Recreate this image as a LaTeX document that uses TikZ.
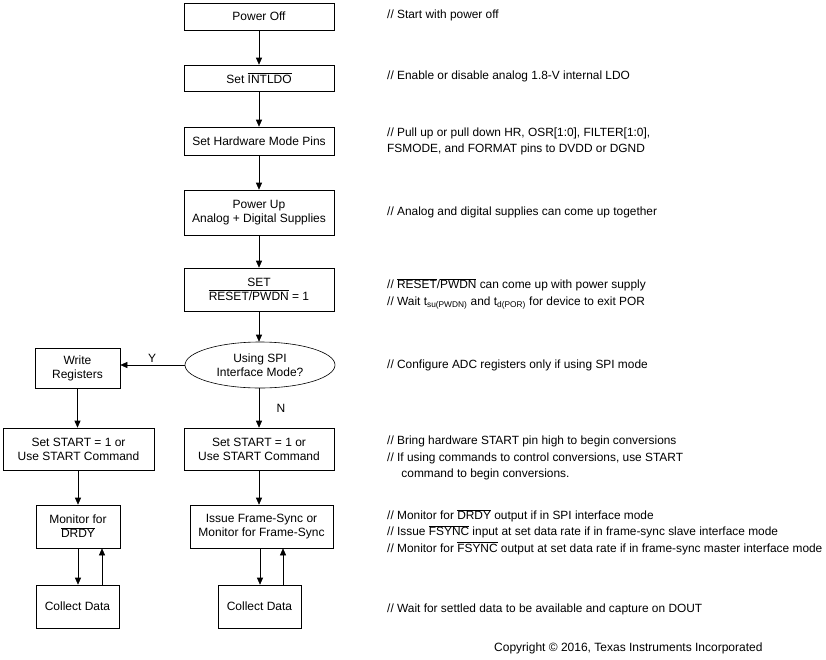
\documentclass[tikz,border=0pt]{standalone}
\usepackage{fontspec}
\setmainfont{Liberation Sans}
\usetikzlibrary{shapes.geometric,arrows.meta}
\begin{document}
\begin{tikzpicture}[x=1pt,y=-1pt,
  box/.style={draw,line width=0.6pt,align=center,inner sep=0pt,font=\fontsize{12}{14}\selectfont},
  cmt/.style={anchor=west,align=left,inner sep=0pt,font=\fontsize{11.9}{16.5}\selectfont},
  lbl/.style={font=\fontsize{12}{14}\selectfont,inner sep=0pt},
  arr/.style={-{Triangle[length=7pt,width=6pt]},line width=0.6pt}]
\useasboundingbox (0,0) rectangle (826,659);
\node[box,minimum width=150,minimum height=27] (p1) at (259,16.5) {Power Off};
\node[box,minimum width=150,minimum height=26] (p2) at (259,78) {Set $\overline{\hbox{INTLDO}}$};
\node[box,minimum width=150,minimum height=28] (p3) at (259,141) {Set Hardware Mode Pins};
\node[box,minimum width=150,minimum height=45] (p4) at (259,212.5) {Power Up\\Analog + Digital Supplies};
\node[box,minimum width=150,minimum height=43] (p5) at (259,289.5) {SET\\$\overline{\hbox{RESET/PWDN}}$ = 1};
\node[box,ellipse,minimum width=150,minimum height=46] (d) at (260,365) {Using SPI\\Interface Mode?};
\node[box,minimum width=85,minimum height=40] (wr) at (77.5,368) {Write\\Registers};
\node[box,minimum width=151,minimum height=42] (sl) at (78.5,449) {Set START = 1 or\\Use START Command};
\node[box,minimum width=150,minimum height=42] (sr) at (259,449) {Set START = 1 or\\Use START Command};
\node[box,minimum width=84,minimum height=43] (ml) at (78,526.5) {Monitor for\\$\overline{\hbox{DRDY}}$};
\node[box,minimum width=143,minimum height=43] (mr) at (261.5,526.5) {Issue Frame-Sync or\\Monitor for Frame-Sync};
\node[box,minimum width=83,minimum height=43] (cl) at (77.5,606.5) {Collect Data};
\node[box,minimum width=83,minimum height=43] (cr) at (259.5,606.5) {Collect Data};
\draw[arr] (p1) -- (p2);
\draw[arr] (p2) -- (p3);
\draw[arr] (p3) -- (p4);
\draw[arr] (p4) -- (p5);
\draw[arr] (p5) -- (p5 |- d.north);
\draw[arr] (d.west) -- (wr.east |- d.west);
\node[lbl] (ylab) at (152,358) {Y};
\draw[arr] (d.south -| sr.north) -- (sr.north);
\node[lbl] (nlab) at (281,408) {N};
\draw[arr] (wr) -- (wr |- sl.north);
\draw[arr] (sl.south -| ml.north) -- (ml.north);
\draw[arr] (sr) -- (sr |- mr.north);
\draw[arr] (ml.south) -- (ml.south |- cl.north);
\draw[arr] ([xshift=24.5]cl.north) -- ([xshift=24.5]cl.north |- ml.south);
\draw[arr] ([xshift=-1.5]mr.south) -- ([xshift=-1.5]mr.south |- cr.north);
\draw[arr] ([xshift=23.5]cr.north) -- ([xshift=23.5]cr.north |- mr.south);
\node[cmt] (c1) at (387,15) {// Start with power off};
\node[cmt] (c2) at (387,76) {// Enable or disable analog 1.8-V internal LDO};
\node[cmt] (c3) at (387,141.5) {// Pull up or pull down HR, OSR[1:0], FILTER[1:0],\\FSMODE, and FORMAT pins to DVDD or DGND};
\node[cmt] (c4) at (387,212) {// Analog and digital supplies can come up together};
\node[cmt] (c5) at (387,293.5) {// $\overline{\hbox{RESET}}$/$\overline{\hbox{PWDN}}$ can come up with power supply\\// Wait t\textsubscript{su(PWDN)} and t\textsubscript{d(POR)} for device to exit POR};
\node[cmt] (c6) at (387,365) {// Configure ADC registers only if using SPI mode};
\node[cmt] (c7) at (387,458) {// Bring hardware START pin high to begin conversions\\// If using commands to control conversions, use START\\\hspace*{1.2em}command to begin conversions.};
\node[cmt] (c8) at (387,532) {// Monitor for $\overline{\hbox{DRDY}}$ output if in SPI interface mode\\// Issue $\overline{\hbox{FSYNC}}$ input at set data rate if in frame-sync slave interface mode\\// Monitor for $\overline{\hbox{FSYNC}}$ output at set data rate if in frame-sync master interface mode};
\node[cmt] (c9) at (387,609) {// Wait for settled data to be available and capture on DOUT};
\node[anchor=west,inner sep=0pt,font=\fontsize{12}{14}\selectfont] (cp) at (494,648) {Copyright © 2016, Texas Instruments Incorporated};
\end{tikzpicture}
\end{document}
